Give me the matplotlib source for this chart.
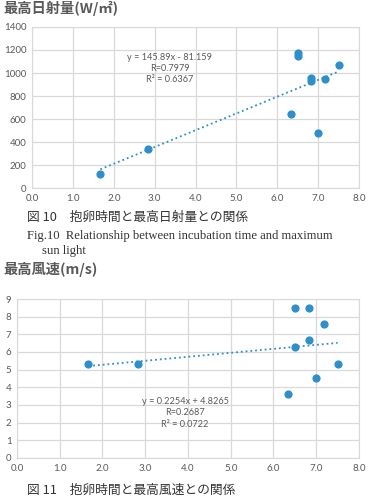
import numpy as np
import matplotlib.pyplot as plt
from matplotlib.ticker import FormatStrFormatter, MultipleLocator

plt.rcParams['font.family'] = ['Noto Sans CJK JP', 'DejaVu Sans']

# 抱卵時間 (h)
hours = [1.67, 2.83, 6.33, 6.5, 6.5, 6.83, 6.83, 7.0, 7.17, 7.5]
# 最高日射量 (W/㎡)
sun = [120, 340, 645, 1150, 1170, 930, 955, 480, 950, 1070]
# 最高風速 (m/s)
wind = [5.3, 5.3, 3.6, 8.5, 6.3, 8.5, 6.7, 4.5, 7.6, 5.3]

# 近似直線の係数 (図中の式)
fit_sun = (145.89, -81.159)
fit_wind = (0.2254, 4.8265)
label_sun = ["y = 145.89x - 81.159", "R=0.7979", "R² = 0.6367"]
label_wind = ["y = 0.2254x + 4.8265", "R=0.2687", "R² = 0.0722"]

blue = '#2E8FCB'
grid_c = '#D9D9D9'
txt_c = '#595959'


def draw_panel(ax, y, fit, ymax, ystep, labels, lx, ly):
    ax.scatter(hours, y, s=24, color=blue, zorder=3)
    xs = np.array([min(hours), max(hours)])
    ax.plot(xs, fit[0] * xs + fit[1], ':', color=blue, lw=1.3, zorder=2)
    ax.set_xlim(0, 8)
    ax.set_ylim(0, ymax)
    ax.xaxis.set_major_locator(MultipleLocator(1))
    ax.yaxis.set_major_locator(MultipleLocator(ystep))
    ax.xaxis.set_major_formatter(FormatStrFormatter('%.1f'))
    ax.grid(True, color=grid_c, lw=0.9)
    ax.set_axisbelow(True)
    for s in ax.spines.values():
        s.set_color(grid_c)
    ax.tick_params(length=0, labelsize=7, colors=txt_c, pad=4)
    for lab in ax.get_xticklabels() + ax.get_yticklabels():
        lab.set_family(['Lato'])
    for i, t in enumerate(labels):
        ax.text(lx, ly[i], t, ha='center', va='center', fontsize=6.6, color=txt_c,
                family=['Lato'])


fig = plt.figure(figsize=(3.68, 4.99), dpi=100)

ax1 = fig.add_axes([0.087, 0.6232, 0.8886, 0.3227])
draw_panel(ax1, sun, fit_sun, 1400, 200, label_sun, 3.37, [1138, 1039, 940])

ax2 = fig.add_axes([0.0462, 0.0822, 0.9293, 0.3186])
draw_panel(ax2, wind, fit_wind, 9, 1, label_wind, 3.93, [3.17, 2.55, 1.87])

fig.text(0.008, 0.984, "最高日射量(W/㎡)", fontsize=10.3, fontweight='semibold',
         color=txt_c, va='center')
fig.text(0.073, 0.565, "図 10　抱卵時間と最高日射量との関係", fontsize=9.2,
         color='#333333', va='center')
fig.text(0.073, 0.527, "Fig.10  Relationship between incubation time and maximum",
         fontsize=9.1, family=['Liberation Serif'], color='#333333', va='center')
fig.text(0.114, 0.497, "sun light", fontsize=9.1, family=['Liberation Serif'],
         color='#333333', va='center')

fig.text(0.008, 0.459, "最高風速(m/s)", fontsize=10.3, fontweight='semibold',
         color=txt_c, va='center')
fig.text(0.073, 0.018, "図 11　抱卵時間と最高風速との関係", fontsize=9.2,
         color='#333333', va='center')

plt.savefig('out.png', dpi=100)
